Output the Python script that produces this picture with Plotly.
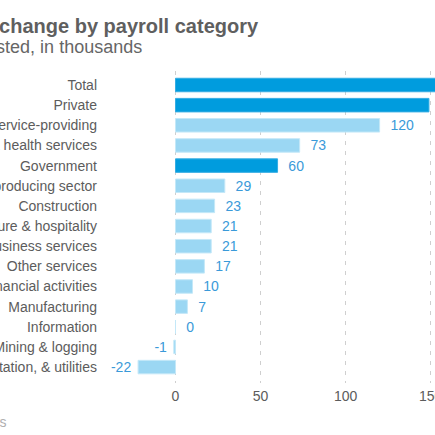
import plotly.graph_objects as go

categories = [
    "Total", "Private", "Service-providing", "Education & health services",
    "Government", "Goods-producing sector", "Construction", "Leisure & hospitality",
    "Professional & business services", "Other services", "Financial activities",
    "Manufacturing", "Information", "Mining & logging",
    "Trade, transportation, & utilities",
]
values = [209, 149, 120, 73, 60, 29, 23, 21, 21, 17, 10, 7, 0, -1, -22]
highlight = ["Total", "Private", "Government"]
x_ticks = [0, 50, 100, 150]

W, H = 435, 435
ML, MR, MT, MB = 98, 0, 71, 52
PW, PH = W - ML - MR, H - MT - MB
PX_PER_UNIT = 1.701
ZERO_PX = 175.5
x_lo = (ML - ZERO_PX) / PX_PER_UNIT
x_hi = x_lo + PW / PX_PER_UNIT

DARK, DARK_LINE = "#009cde", "#35ade3"
LIGHT, LIGHT_LINE = "#9bd7f3", "#c4e8f8"
fills = [DARK if c in highlight else LIGHT for c in categories]
lines = [DARK_LINE if c in highlight else LIGHT_LINE for c in categories]
NB = "\u00a0"
texts = [f"{NB*2}{v}" if v >= 0 else f"{v}{NB}" for v in values]

font = "Liberation Sans, Arial, sans-serif"

fig = go.Figure(go.Bar(
    x=values, y=categories, orientation="h",
    marker=dict(color=fills, line=dict(color=lines, width=1)),
    text=texts, textposition="outside", constraintext="none",
    textfont=dict(family=font, size=14, color="#3a9ad9"),
    cliponaxis=True, width=0.67, hoverinfo="skip",
))

def px_x(px):
    return (px - ML) / PW

def px_y(py):
    return (H - MB - py) / PH

fig.update_layout(
    width=W, height=H, template="none",
    margin=dict(l=ML, r=MR, t=MT, b=MB, pad=0),
    paper_bgcolor="white", plot_bgcolor="white",
    showlegend=False,
    font=dict(family=font, size=14, color="#5c5c5c"),
    xaxis=dict(range=[x_lo, x_hi], tickvals=x_ticks, showgrid=True,
               gridcolor="#cfcfcf", griddash="4px,6px", gridwidth=1,
               zeroline=False, showline=False, ticks="", automargin=False,
               ticklabelstandoff=3, ticklabeloverflow="allow",
               tickfont=dict(size=14, color="#5c5c5c")),
    yaxis=dict(type="category", range=[14.79, -0.695], showgrid=False,
               zeroline=False, showline=False, ticks="", automargin=False,
               tickfont=dict(size=14, color="#5c5c5c")),
    annotations=[
        dict(text="<b>Job change by payroll category</b>", xref="paper", yref="paper",
             x=px_x(-44), y=px_y(26), xanchor="left", yanchor="middle",
             showarrow=False, font=dict(size=20, color="#5f5f5f", family=font)),
        dict(text="Seasonally adjusted, in thousands", xref="paper", yref="paper",
             x=px_x(-133), y=px_y(47), xanchor="left", yanchor="middle",
             showarrow=False, font=dict(size=18, color="#666666", family=font)),
        dict(text="Source: U.S. Bureau of Labor Statistics", xref="paper", yref="paper",
             x=px_x(9), y=px_y(422), xanchor="right", yanchor="middle",
             showarrow=False, font=dict(size=14, color="#b0b0b0", family=font)),
    ],
)

fig.write_html("out.html", config={"displayModeBar": False},
               post_script="document.body.style.margin='0';")
